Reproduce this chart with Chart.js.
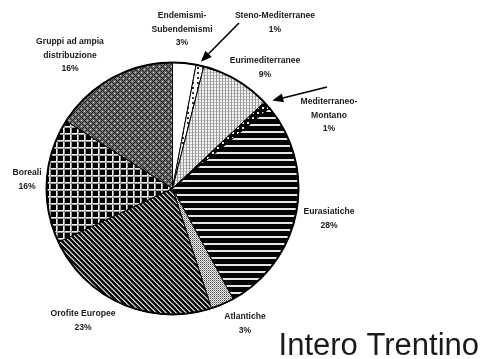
<!DOCTYPE html>
<html>
<head>
<meta charset="utf-8">
<style>
  html, body { margin: 0; padding: 0; background: #fff; }
</style>
</head>
<body>
<canvas id="chart" width="482" height="359"></canvas>
<script src="https://cdn.jsdelivr.net/npm/chart.js@4/dist/chart.umd.min.js"></script>
<script>
// slices, clockwise from 12 o'clock
const categories = ['Endemismi-Subendemismi', 'Steno-Mediterranee', 'Eurimediterranee', 'Mediterraneo-Montano',
  'Eurasiatiche', 'Atlantiche', 'Orofite Europee', 'Boreali', 'Gruppi ad ampia distribuzione'];
const shares = [3, 1, 9, 1, 28, 3, 23, 16, 16];
const labelLines = [
  ['Endemismi-', 'Subendemismi'],
  ['Steno-Mediterranee'],
  ['Eurimediterranee'],
  ['Mediterraneo-', 'Montano'],
  ['Eurasiatiche'],
  ['Atlantiche'],
  ['Orofite Europee'],
  ['Boreali'],
  ['Gruppi ad ampia', 'distribuzione']
];
// where each label block sits (centre x, first line y)
const labelAnchors = [[182, 16], [275, 16], [265, 61], [329, 102], [329, 212], [245, 317], [83, 314], [27, 173], [70, 42]];
// arrows: slice index, tail x, tail y, gap from the rim at the tip
const arrows = [[1, 239, 23, 4], [3, 327, 87, 7]];

function makePattern(w, h, draw) {
  const c = document.createElement('canvas');
  c.width = w; c.height = h;
  const g = c.getContext('2d');
  draw(g, w, h);
  return document.getElementById('chart').getContext('2d').createPattern(c, 'repeat');
}

function pixels(g, w, h, fn) {
  for (let y = 0; y < h; y++) for (let x = 0; x < w; x++) {
    g.fillStyle = fn(x, y); g.fillRect(x, y, 1, 1);
  }
}

const fills = [
  '#ffffff',
  makePattern(5, 5, (g) => { g.fillStyle = '#fff'; g.fillRect(0, 0, 5, 5); g.fillStyle = '#333'; g.fillRect(2, 2, 2, 2); }),
  makePattern(3, 3, (g) => { g.fillStyle = '#f4f4f4'; g.fillRect(0, 0, 3, 3); g.fillStyle = '#9a9a9a'; g.fillRect(0, 0, 1, 3); g.fillStyle = '#bdbdbd'; g.fillRect(1, 0, 2, 1); }),
  makePattern(5, 5, (g) => { g.fillStyle = '#000'; g.fillRect(0, 0, 5, 5); g.fillStyle = '#eee'; g.fillRect(2, 2, 2, 2); }),
  makePattern(4, 7, (g) => { g.fillStyle = '#050505'; g.fillRect(0, 0, 4, 7); g.fillStyle = '#e6e6e6'; g.fillRect(0, 5, 4, 2); }),
  makePattern(4, 4, (g, w, h) => pixels(g, w, h, (x, y) => ((x + y) % 2 === 0 ? ((x % 2 === 0) ? '#444' : '#999') : '#f2f2f2'))),
  makePattern(5, 5, (g, w, h) => pixels(g, w, h, (x, y) => {
    const k = ((x - y) % 5 + 5) % 5;
    return k < 3 ? '#0a0a0a' : (k === 3 ? '#d8d8d8' : '#8a8a8a');
  })),
  makePattern(7, 7, (g) => { g.fillStyle = '#000'; g.fillRect(0, 0, 7, 7); g.fillStyle = '#f0f0f0'; g.fillRect(0, 0, 7, 1); g.fillRect(0, 0, 1, 7); g.fillStyle = '#9a9a9a'; g.fillRect(0, 1, 7, 1); g.fillRect(1, 0, 1, 7); }),
  makePattern(6, 6, (g, w, h) => pixels(g, w, h, (x, y) => {
    if ((x + y) % 6 === 0 || ((x - y) % 6 + 6) % 6 === 0) return '#1a1a1a';
    if ((x === 3 && y === 0) || (x === 0 && y === 3)) return '#d0d0d0';
    return '#707070';
  }))
];

function drawArrow(ctx, sx, sy, tx, ty) {
  const ang = Math.atan2(ty - sy, tx - sx);
  const len = 11, half = 4.5;
  const bx = tx - Math.cos(ang) * len, by = ty - Math.sin(ang) * len;
  ctx.beginPath();
  ctx.moveTo(sx, sy); ctx.lineTo(bx, by);
  ctx.lineWidth = 1.6; ctx.strokeStyle = '#000'; ctx.stroke();
  ctx.beginPath();
  ctx.moveTo(tx, ty);
  ctx.lineTo(bx + Math.sin(ang) * half, by - Math.cos(ang) * half);
  ctx.lineTo(bx - Math.sin(ang) * half, by + Math.cos(ang) * half);
  ctx.closePath();
  ctx.fillStyle = '#000'; ctx.fill();
}

const annotate = {
  id: 'annotate',
  afterDatasetsDraw(chart) {
    const ctx = chart.ctx;
    const arcs = chart.getDatasetMeta(0).data;
    const { x, y, outerRadius } = arcs[0];
    ctx.save();
    ctx.beginPath();
    ctx.arc(x, y, outerRadius, 0, Math.PI * 2);
    ctx.lineWidth = 2; ctx.strokeStyle = '#000'; ctx.stroke();

    ctx.font = 'bold 8.6px "Liberation Sans", Arial, sans-serif';
    ctx.fillStyle = '#1a1a1a'; ctx.textAlign = 'center'; ctx.textBaseline = 'middle';
    labelAnchors.forEach(([lx, ly], i) => {
      [...labelLines[i], shares[i] + '%'].forEach((t, k) => ctx.fillText(t, lx, ly + k * 13.3));
    });

    arrows.forEach(([i, sx, sy, gap]) => {
      const a = arcs[i];
      const mid = (a.startAngle + a.endAngle) / 2;
      const r = a.outerRadius + gap;
      drawArrow(ctx, sx, sy, a.x + Math.cos(mid) * r, a.y + Math.sin(mid) * r);
    });

    ctx.font = '31px "Liberation Sans", Arial, sans-serif';
    ctx.textAlign = 'right'; ctx.textBaseline = 'alphabetic'; ctx.fillStyle = '#1a1a1a';
    ctx.fillText('Intero Trentino', 479, 355);
    ctx.restore();
  }
};

new Chart(document.getElementById('chart').getContext('2d'), {
  type: 'pie',
  data: {
    labels: categories,
    datasets: [{ data: shares, backgroundColor: fills, borderColor: '#000', borderWidth: 1 }]
  },
  options: {
    responsive: false,
    animation: false,
    layout: { padding: { left: 46, top: 62, right: 183, bottom: 44 } },
    plugins: { legend: { display: false }, tooltip: { enabled: false } }
  },
  plugins: [annotate]
});
</script>
</body>
</html>
